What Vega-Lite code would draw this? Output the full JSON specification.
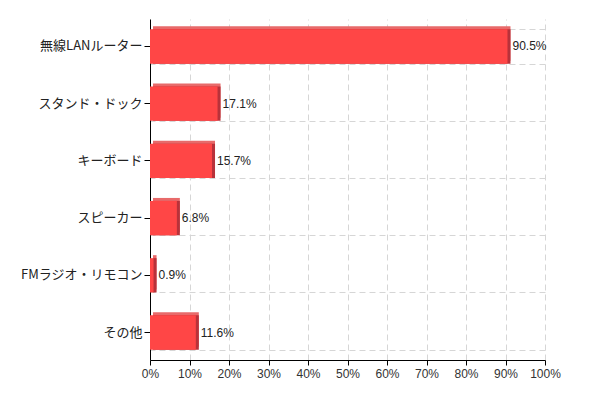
{
  "$schema": "https://vega.github.io/schema/vega-lite/v6.json",
  "width": 395,
  "height": 341,
  "autosize": "none",
  "padding": {"left": 150, "top": 19, "right": 53, "bottom": 38},
  "background": "white",
  "config": {
    "view": {"stroke": null},
    "font": "Liberation Sans",
    "axis": {"labelColor": "#333", "labelFontSize": 12, "titleColor": "#333"}
  },
  "data": {"values": [
    {"item": "無線LANルーター", "pct": 0.905},
    {"item": "スタンド・ドック", "pct": 0.171},
    {"item": "キーボード", "pct": 0.157},
    {"item": "スピーカー", "pct": 0.068},
    {"item": "FMラジオ・リモコン", "pct": 0.009},
    {"item": "その他", "pct": 0.116}
  ]},
  "encoding": {
    "y": {"field": "item", "type": "nominal", "sort": null, "axis": null,
      "scale": {"paddingInner": 0.4, "paddingOuter": 0.18}},
    "x": {"field": "pct", "type": "quantitative",
      "scale": {"domain": [0, 1], "nice": false},
      "axis": {"title": null, "format": "~%", "values": [0,0.1,0.2,0.3,0.4,0.5,0.6,0.7,0.8,0.9,1],
        "labelOverlap": false, "labelFlush": false,
        "grid": true, "gridColor": "#d6d6d6", "gridDash": [6, 4],
        "domainColor": "#000", "tickColor": "#000", "tickSize": 5, "labelPadding": 3,
        "labelFont": "Liberation Sans", "labelFontSize": 12, "labelColor": "#333"}}
  },
  "resolve": {"axis": {"y": "independent"}},
  "layer": [
    {
      "mark": {"type": "bar", "opacity": 0},
      "encoding": {
        "y": {"field": "item", "type": "nominal", "sort": null,
          "axis": {"orient": "right", "title": null, "labels": false, "ticks": false, "domain": false,
            "grid": true, "tickBand": "extent", "gridColor": "#d6d6d6", "gridDash": [6, 4]}}
      }
    },
    {
      "mark": {"type": "bar", "color": "#e86a6a", "xOffset": 3, "yOffset": -3},
      "encoding": {
        "y": {"field": "item", "type": "nominal", "sort": null,
          "axis": {"orient": "left", "title": null, "grid": false, "domainColor": "#000", "tickColor": "#000", "tickSize": 6,
            "labelPadding": 2, "labelFont": "Noto Sans CJK JP", "labelFontSize": 13, "labelFontWeight": "normal", "labelColor": "#222"}}
      }
    },
    {
      "mark": {"type": "bar", "color": "#b8323a", "xOffset": 3},
      "encoding": {}
    },
    {
      "mark": {"type": "bar", "color": "#ff4646"},
      "encoding": {}
    },
    {
      "mark": {"type": "text", "align": "left", "baseline": "middle", "dx": 5, "fontSize": 12, "color": "#222", "font": "Liberation Sans"},
      "encoding": {"text": {"field": "pct", "type": "quantitative", "format": ".1%"}}
    }
  ]
}
